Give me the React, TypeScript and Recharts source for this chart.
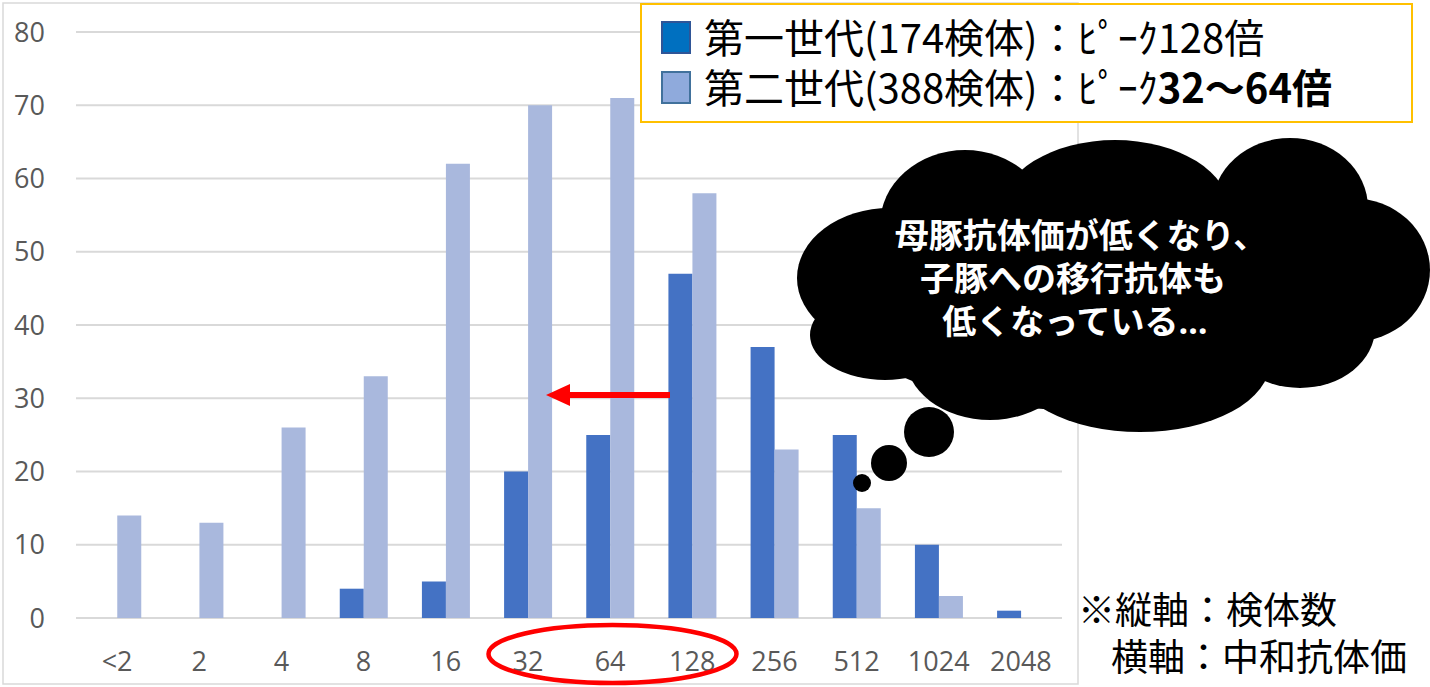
import React from 'react';
import { BarChart, Bar, XAxis, YAxis, CartesianGrid } from 'recharts';

const categories = ['<2', '2', '4', '8', '16', '32', '64', '128', '256', '512', '1024', '2048'];
const gen1Counts = [0, 0, 0, 4, 5, 20, 25, 47, 37, 25, 10, 1];
const gen2Counts = [14, 13, 26, 33, 62, 70, 71, 58, 23, 15, 3, 0];
const yTicks = [0, 10, 20, 30, 40, 50, 60, 70, 80];

const gen1Name = '第一世代(174検体)：ﾋﾟｰｸ128倍';
const gen2NameA = '第二世代(388検体)：ﾋﾟｰｸ';
const gen2NameB = '32～64倍';
const cloudLines = ['母豚抗体価が低くなり、', '子豚への移行抗体も', '低くなっている'];
const cloudEllipsis = '…';
const noteLines = ['※縦軸：検体数', '横軸：中和抗体価'];

const data = categories.map((c, i) => ({ c, g1: gen1Counts[i], g2: gen2Counts[i] }));

const GEN1 = '#4472C4';
const GEN2 = '#A9B8DD';
const CJK = '"Noto Sans CJK JP", "Noto Sans", sans-serif';
const LAT = '"Open Sans", "Noto Sans", sans-serif';

const cloud: [number, number, number, number][] = [
  [1075, 290, 250, 120],
  [890, 278, 93, 70],
  [965, 225, 85, 75],
  [1115, 212, 115, 72],
  [1290, 208, 78, 70],
  [1352, 270, 78, 72],
  [1300, 328, 75, 60],
  [1140, 362, 130, 70],
  [885, 335, 75, 45],
  [990, 355, 85, 65],
];

export default function App() {
  return (
    <div style={{ position: 'absolute', left: 0, top: 0, width: 1430, height: 687, background: '#fff' }}>
      <div style={{ position: 'absolute', left: 0, top: 0 }}>
        <BarChart
          width={1430}
          height={687}
          data={data}
          margin={{ top: 32, right: 368, bottom: 29, left: 0 }}
          barCategoryGap="21%"
          barGap={0}
        >
          <CartesianGrid vertical={false} stroke="#D9D9D9" strokeWidth={2} />
          <XAxis
            dataKey="c"
            height={40}
            axisLine={false}
            tickLine={false}
            tickSize={0}
            tickMargin={34}
            interval={0}
            tick={{ fill: '#595959', fontSize: 27, fontFamily: LAT }}
          />
          <YAxis
            width={76}
            domain={[0, 80]}
            ticks={yTicks}
            axisLine={false}
            tickLine={false}
            tickSize={0}
            tickMargin={31}
            tick={{ fill: '#595959', fontSize: 27, fontFamily: LAT }}
          />
          <Bar dataKey="g1" name={gen1Name} fill={GEN1} isAnimationActive={false} />
          <Bar dataKey="g2" name={gen2NameA + gen2NameB} fill={GEN2} isAnimationActive={false} />
        </BarChart>
      </div>
      <svg width={1430} height={687} style={{ position: 'absolute', left: 0, top: 0 }}>
        <rect x={3} y={3} width={1075} height={681} fill="none" stroke="#D9D9D9" strokeWidth={1.5} />
        <g fill="#000">
          {cloud.map(([cx, cy, rx, ry], i) => (
            <ellipse key={i} cx={cx} cy={cy} rx={rx} ry={ry} />
          ))}
          <ellipse cx={929} cy={432} rx={25} ry={25} />
          <ellipse cx={889} cy={463} rx={18} ry={18} />
          <ellipse cx={862} cy={483} rx={9} ry={9} />
        </g>
        <text fill="#fff" fontFamily={CJK} fontWeight={700} fontSize={34} textAnchor="middle">
          <tspan x={1081} y={248}>{cloudLines[0]}</tspan>
          <tspan x={1073} y={291}>{cloudLines[1]}</tspan>
          <tspan x={1075} y={334}>
            {cloudLines[2]}
            <tspan fontFamily={LAT}>{cloudEllipsis}</tspan>
          </tspan>
        </text>
        <text fill="#000" fontFamily={CJK} fontSize={37}>
          <tspan x={1078} y={624}>{noteLines[0]}</tspan>
          <tspan x={1111} y={671}>{noteLines[1]}</tspan>
        </text>
        <line x1={670} y1={395} x2={565} y2={395} stroke="#FF0000" strokeWidth={6} />
        <polygon points="546,395 570,384 570,406" fill="#FF0000" />
        <ellipse cx={612.5} cy={654} rx={124} ry={29} fill="none" stroke="#FF0000" strokeWidth={4.5} />
      </svg>
      <div
        style={{
          position: 'absolute',
          left: 640,
          top: 3,
          width: 773,
          height: 120,
          border: '2.5px solid #FFC000',
          background: '#fff',
          fontFamily: CJK,
          fontSize: 40,
          color: '#000',
          boxSizing: 'border-box',
        }}
      >
        <div style={{ position: 'absolute', left: 19, top: 16, width: 30, height: 33, background: '#0070C0', border: '2px solid #2F5597', boxSizing: 'border-box' }} />
        <div style={{ position: 'absolute', left: 19, top: 66, width: 30, height: 33, background: '#8FAADC', border: '2px solid #41719C', boxSizing: 'border-box' }} />
        <div style={{ position: 'absolute', left: 62, top: 6, lineHeight: '50px', whiteSpace: 'nowrap' }}>
          {gen1Name}
          <br />
          {gen2NameA}
          <b>{gen2NameB}</b>
        </div>
      </div>
    </div>
  );
}
